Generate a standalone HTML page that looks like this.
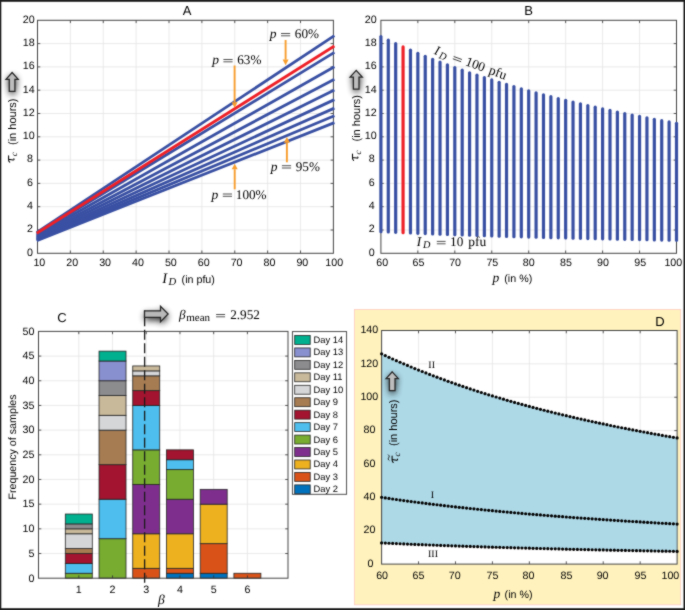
<!DOCTYPE html><html><head><meta charset="utf-8"><style>html,body{margin:0;padding:0;background:#fff;}svg{display:block;}.s{font-family:"Liberation Sans",sans-serif;}.r{font-family:"Liberation Serif",serif;}text{fill:#000;}</style></head><body>
<div><svg width="685" height="610" viewBox="0 0 685 610" text-rendering="geometricPrecision">
<defs><filter id="sh" x="-1" y="-1" width="3" height="3"><feGaussianBlur stdDeviation="3.5"/></filter></defs>
<filter id="gb" x="0" y="0" width="685" height="610" filterUnits="userSpaceOnUse" color-interpolation-filters="sRGB"><feConvolveMatrix order="3" kernelMatrix="1 2 1 2 16 2 1 2 1" divisor="28" edgeMode="duplicate"/></filter>
<g filter="url(#gb)">
<rect width="685" height="610" fill="#fff"/>
<line x1="70.38" y1="20.3" x2="70.38" y2="253.3" stroke="#e4e4e4" stroke-width="0.8"/>
<line x1="103.26" y1="20.3" x2="103.26" y2="253.3" stroke="#e4e4e4" stroke-width="0.8"/>
<line x1="136.13" y1="20.3" x2="136.13" y2="253.3" stroke="#e4e4e4" stroke-width="0.8"/>
<line x1="169.01" y1="20.3" x2="169.01" y2="253.3" stroke="#e4e4e4" stroke-width="0.8"/>
<line x1="201.89" y1="20.3" x2="201.89" y2="253.3" stroke="#e4e4e4" stroke-width="0.8"/>
<line x1="234.77" y1="20.3" x2="234.77" y2="253.3" stroke="#e4e4e4" stroke-width="0.8"/>
<line x1="267.64" y1="20.3" x2="267.64" y2="253.3" stroke="#e4e4e4" stroke-width="0.8"/>
<line x1="300.52" y1="20.3" x2="300.52" y2="253.3" stroke="#e4e4e4" stroke-width="0.8"/>
<line x1="37.5" y1="230" x2="333.4" y2="230" stroke="#e4e4e4" stroke-width="0.8"/>
<line x1="37.5" y1="206.7" x2="333.4" y2="206.7" stroke="#e4e4e4" stroke-width="0.8"/>
<line x1="37.5" y1="183.4" x2="333.4" y2="183.4" stroke="#e4e4e4" stroke-width="0.8"/>
<line x1="37.5" y1="160.1" x2="333.4" y2="160.1" stroke="#e4e4e4" stroke-width="0.8"/>
<line x1="37.5" y1="136.8" x2="333.4" y2="136.8" stroke="#e4e4e4" stroke-width="0.8"/>
<line x1="37.5" y1="113.5" x2="333.4" y2="113.5" stroke="#e4e4e4" stroke-width="0.8"/>
<line x1="37.5" y1="90.2" x2="333.4" y2="90.2" stroke="#e4e4e4" stroke-width="0.8"/>
<line x1="37.5" y1="66.9" x2="333.4" y2="66.9" stroke="#e4e4e4" stroke-width="0.8"/>
<line x1="37.5" y1="43.6" x2="333.4" y2="43.6" stroke="#e4e4e4" stroke-width="0.8"/>
<line x1="70.38" y1="253.3" x2="70.38" y2="250.5" stroke="#303030" stroke-width="0.8"/>
<line x1="70.38" y1="20.3" x2="70.38" y2="23.1" stroke="#303030" stroke-width="0.8"/>
<line x1="103.26" y1="253.3" x2="103.26" y2="250.5" stroke="#303030" stroke-width="0.8"/>
<line x1="103.26" y1="20.3" x2="103.26" y2="23.1" stroke="#303030" stroke-width="0.8"/>
<line x1="136.13" y1="253.3" x2="136.13" y2="250.5" stroke="#303030" stroke-width="0.8"/>
<line x1="136.13" y1="20.3" x2="136.13" y2="23.1" stroke="#303030" stroke-width="0.8"/>
<line x1="169.01" y1="253.3" x2="169.01" y2="250.5" stroke="#303030" stroke-width="0.8"/>
<line x1="169.01" y1="20.3" x2="169.01" y2="23.1" stroke="#303030" stroke-width="0.8"/>
<line x1="201.89" y1="253.3" x2="201.89" y2="250.5" stroke="#303030" stroke-width="0.8"/>
<line x1="201.89" y1="20.3" x2="201.89" y2="23.1" stroke="#303030" stroke-width="0.8"/>
<line x1="234.77" y1="253.3" x2="234.77" y2="250.5" stroke="#303030" stroke-width="0.8"/>
<line x1="234.77" y1="20.3" x2="234.77" y2="23.1" stroke="#303030" stroke-width="0.8"/>
<line x1="267.64" y1="253.3" x2="267.64" y2="250.5" stroke="#303030" stroke-width="0.8"/>
<line x1="267.64" y1="20.3" x2="267.64" y2="23.1" stroke="#303030" stroke-width="0.8"/>
<line x1="300.52" y1="253.3" x2="300.52" y2="250.5" stroke="#303030" stroke-width="0.8"/>
<line x1="300.52" y1="20.3" x2="300.52" y2="23.1" stroke="#303030" stroke-width="0.8"/>
<line x1="37.5" y1="230" x2="40.3" y2="230" stroke="#303030" stroke-width="0.8"/>
<line x1="333.4" y1="230" x2="330.6" y2="230" stroke="#303030" stroke-width="0.8"/>
<line x1="37.5" y1="206.7" x2="40.3" y2="206.7" stroke="#303030" stroke-width="0.8"/>
<line x1="333.4" y1="206.7" x2="330.6" y2="206.7" stroke="#303030" stroke-width="0.8"/>
<line x1="37.5" y1="183.4" x2="40.3" y2="183.4" stroke="#303030" stroke-width="0.8"/>
<line x1="333.4" y1="183.4" x2="330.6" y2="183.4" stroke="#303030" stroke-width="0.8"/>
<line x1="37.5" y1="160.1" x2="40.3" y2="160.1" stroke="#303030" stroke-width="0.8"/>
<line x1="333.4" y1="160.1" x2="330.6" y2="160.1" stroke="#303030" stroke-width="0.8"/>
<line x1="37.5" y1="136.8" x2="40.3" y2="136.8" stroke="#303030" stroke-width="0.8"/>
<line x1="333.4" y1="136.8" x2="330.6" y2="136.8" stroke="#303030" stroke-width="0.8"/>
<line x1="37.5" y1="113.5" x2="40.3" y2="113.5" stroke="#303030" stroke-width="0.8"/>
<line x1="333.4" y1="113.5" x2="330.6" y2="113.5" stroke="#303030" stroke-width="0.8"/>
<line x1="37.5" y1="90.2" x2="40.3" y2="90.2" stroke="#303030" stroke-width="0.8"/>
<line x1="333.4" y1="90.2" x2="330.6" y2="90.2" stroke="#303030" stroke-width="0.8"/>
<line x1="37.5" y1="66.9" x2="40.3" y2="66.9" stroke="#303030" stroke-width="0.8"/>
<line x1="333.4" y1="66.9" x2="330.6" y2="66.9" stroke="#303030" stroke-width="0.8"/>
<line x1="37.5" y1="43.6" x2="40.3" y2="43.6" stroke="#303030" stroke-width="0.8"/>
<line x1="333.4" y1="43.6" x2="330.6" y2="43.6" stroke="#303030" stroke-width="0.8"/>
<rect x="37.5" y="20.3" width="295.9" height="233" fill="none" stroke="#444444" stroke-width="1"/>
<text x="29.9" y="255.68" text-anchor="middle" class="s" font-size="10.7">0</text>
<text x="29.9" y="232.38" text-anchor="middle" class="s" font-size="10.7">2</text>
<text x="29.9" y="209.08" text-anchor="middle" class="s" font-size="10.7">4</text>
<text x="29.9" y="185.78" text-anchor="middle" class="s" font-size="10.7">6</text>
<text x="29.9" y="162.48" text-anchor="middle" class="s" font-size="10.7">8</text>
<text x="28.75" y="139.18" text-anchor="middle" class="s" font-size="10.7">10</text>
<text x="28.75" y="115.88" text-anchor="middle" class="s" font-size="10.7">12</text>
<text x="28.75" y="92.58" text-anchor="middle" class="s" font-size="10.7">14</text>
<text x="28.75" y="69.28" text-anchor="middle" class="s" font-size="10.7">16</text>
<text x="28.75" y="45.98" text-anchor="middle" class="s" font-size="10.7">18</text>
<text x="28.75" y="22.68" text-anchor="middle" class="s" font-size="10.7">20</text>
<text x="39.35" y="266.43" text-anchor="middle" class="s" font-size="10.7">10</text>
<text x="72.23" y="266.43" text-anchor="middle" class="s" font-size="10.7">20</text>
<text x="105.11" y="266.43" text-anchor="middle" class="s" font-size="10.7">30</text>
<text x="137.98" y="266.43" text-anchor="middle" class="s" font-size="10.7">40</text>
<text x="170.86" y="266.43" text-anchor="middle" class="s" font-size="10.7">50</text>
<text x="203.74" y="266.43" text-anchor="middle" class="s" font-size="10.7">60</text>
<text x="236.62" y="266.43" text-anchor="middle" class="s" font-size="10.7">70</text>
<text x="269.49" y="266.43" text-anchor="middle" class="s" font-size="10.7">80</text>
<text x="302.37" y="266.43" text-anchor="middle" class="s" font-size="10.7">90</text>
<text x="334.2" y="266.43" text-anchor="middle" class="s" font-size="10.7">100</text>
<line x1="36.7" y1="240.76" x2="334.4" y2="122.64" stroke="#3950a3" stroke-width="2.8"/>
<line x1="36.7" y1="240.1" x2="334.4" y2="115.78" stroke="#3950a3" stroke-width="2.8"/>
<line x1="36.7" y1="239.36" x2="334.4" y2="108.15" stroke="#3950a3" stroke-width="2.8"/>
<line x1="36.7" y1="238.53" x2="334.4" y2="99.63" stroke="#3950a3" stroke-width="2.8"/>
<line x1="36.7" y1="237.59" x2="334.4" y2="90.04" stroke="#3950a3" stroke-width="2.8"/>
<line x1="36.7" y1="236.54" x2="334.4" y2="79.17" stroke="#3950a3" stroke-width="2.8"/>
<line x1="36.7" y1="235.33" x2="334.4" y2="66.75" stroke="#3950a3" stroke-width="2.8"/>
<line x1="36.7" y1="233.93" x2="334.4" y2="52.42" stroke="#3950a3" stroke-width="2.8"/>
<line x1="36.7" y1="232.31" x2="334.4" y2="35.7" stroke="#3950a3" stroke-width="2.8"/>
<line x1="36.7" y1="233.31" x2="334.4" y2="46.05" stroke="#ee2027" stroke-width="2.8"/>
<text x="187" y="14.6" text-anchor="middle" class="s" font-size="13">A</text>
<line x1="285.6" y1="40" x2="285.6" y2="59.6" stroke="#f89d2c" stroke-width="1.9"/>
<path d="M285.6,65.2 L288.6,59.6 L282.6,59.6 Z" fill="#f89d2c"/>
<line x1="234.6" y1="65.5" x2="234.6" y2="102.2" stroke="#f89d2c" stroke-width="1.9"/>
<path d="M234.6,107.8 L237.6,102.2 L231.6,102.2 Z" fill="#f89d2c"/>
<line x1="286.9" y1="162.3" x2="286.9" y2="142.7" stroke="#f89d2c" stroke-width="1.9"/>
<path d="M286.9,137.1 L289.9,142.7 L283.9,142.7 Z" fill="#f89d2c"/>
<line x1="234.7" y1="189.3" x2="234.7" y2="169.3" stroke="#f89d2c" stroke-width="1.9"/>
<path d="M234.7,163.7 L237.7,169.3 L231.7,169.3 Z" fill="#f89d2c"/>
<text x="269.8" y="38.4" class="r" font-size="13.5" font-style="italic">p</text>
<line x1="281" y1="33.5" x2="290.2" y2="33.5" stroke="#333" stroke-width="0.85"/>
<line x1="281" y1="35.8" x2="290.2" y2="35.8" stroke="#333" stroke-width="0.85"/>
<text x="294.8" y="38.4" class="r" font-size="13.2">60%</text>
<text x="212.2" y="64.4" class="r" font-size="13.5" font-style="italic">p</text>
<line x1="223.4" y1="59.5" x2="232.6" y2="59.5" stroke="#333" stroke-width="0.85"/>
<line x1="223.4" y1="61.8" x2="232.6" y2="61.8" stroke="#333" stroke-width="0.85"/>
<text x="237.2" y="64.4" class="r" font-size="13.2">63%</text>
<text x="270.7" y="170.6" class="r" font-size="13.5" font-style="italic">p</text>
<line x1="281.9" y1="165.7" x2="291.1" y2="165.7" stroke="#333" stroke-width="0.85"/>
<line x1="281.9" y1="168" x2="291.1" y2="168" stroke="#333" stroke-width="0.85"/>
<text x="295.7" y="170.6" class="r" font-size="13.2">95%</text>
<text x="211.6" y="198.9" class="r" font-size="13.5" font-style="italic">p</text>
<line x1="222.8" y1="194" x2="232" y2="194" stroke="#333" stroke-width="0.85"/>
<line x1="222.8" y1="196.3" x2="232" y2="196.3" stroke="#333" stroke-width="0.85"/>
<text x="235.8" y="198.9" class="r" font-size="13.2">100%</text>
<path transform="translate(14.2,162.5) rotate(-90)" d="M0.3,-4.5 C0.9,-5.3 1.7,-5.6 2.7,-5.6 L6.7,-5.6 M3.2,-5.6 L2.6,-1.2 C2.4,-0.3 2.9,0.2 3.7,-0.3" fill="none" stroke="#000" stroke-width="1.05" stroke-linecap="round"/>
<text transform="translate(16.6,156.3) rotate(-90)" class="r" font-size="9" font-style="italic">c</text>
<text transform="translate(16.3,145) rotate(-90)" class="s" font-size="11">(in hours)</text>
<text x="162.2" y="282.7" class="r" font-size="14.5" font-style="italic">I</text>
<text x="168.4" y="284.9" class="r" font-size="10.6" font-style="italic">D</text>
<text x="181.6" y="282.6" class="s" font-size="10.7">(in pfu)</text>
<g transform="translate(12.1,72.5) rotate(0)"><path d="M0,0 L6.1,6.8 L2.8,6.8 L2.8,18.8 L-2.8,18.8 L-2.8,6.8 L-6.1,6.8 Z" fill="#000" opacity="0.95" filter="url(#sh)" transform="translate(0.3,2.6)"/><path d="M0,0 L6.1,6.8 L2.8,6.8 L2.8,18.8 L-2.8,18.8 L-2.8,6.8 L-6.1,6.8 Z" fill="#bdbdbd" stroke="#262626" stroke-width="1.25" stroke-linejoin="miter"/></g>
<line x1="417.85" y1="20.3" x2="417.85" y2="253.3" stroke="#e4e4e4" stroke-width="0.8"/>
<line x1="454.8" y1="20.3" x2="454.8" y2="253.3" stroke="#e4e4e4" stroke-width="0.8"/>
<line x1="491.75" y1="20.3" x2="491.75" y2="253.3" stroke="#e4e4e4" stroke-width="0.8"/>
<line x1="528.7" y1="20.3" x2="528.7" y2="253.3" stroke="#e4e4e4" stroke-width="0.8"/>
<line x1="565.65" y1="20.3" x2="565.65" y2="253.3" stroke="#e4e4e4" stroke-width="0.8"/>
<line x1="602.6" y1="20.3" x2="602.6" y2="253.3" stroke="#e4e4e4" stroke-width="0.8"/>
<line x1="639.55" y1="20.3" x2="639.55" y2="253.3" stroke="#e4e4e4" stroke-width="0.8"/>
<line x1="380.9" y1="230" x2="676.5" y2="230" stroke="#e4e4e4" stroke-width="0.8"/>
<line x1="380.9" y1="206.7" x2="676.5" y2="206.7" stroke="#e4e4e4" stroke-width="0.8"/>
<line x1="380.9" y1="183.4" x2="676.5" y2="183.4" stroke="#e4e4e4" stroke-width="0.8"/>
<line x1="380.9" y1="160.1" x2="676.5" y2="160.1" stroke="#e4e4e4" stroke-width="0.8"/>
<line x1="380.9" y1="136.8" x2="676.5" y2="136.8" stroke="#e4e4e4" stroke-width="0.8"/>
<line x1="380.9" y1="113.5" x2="676.5" y2="113.5" stroke="#e4e4e4" stroke-width="0.8"/>
<line x1="380.9" y1="90.2" x2="676.5" y2="90.2" stroke="#e4e4e4" stroke-width="0.8"/>
<line x1="380.9" y1="66.9" x2="676.5" y2="66.9" stroke="#e4e4e4" stroke-width="0.8"/>
<line x1="380.9" y1="43.6" x2="676.5" y2="43.6" stroke="#e4e4e4" stroke-width="0.8"/>
<line x1="417.85" y1="253.3" x2="417.85" y2="250.5" stroke="#303030" stroke-width="0.8"/>
<line x1="417.85" y1="20.3" x2="417.85" y2="23.1" stroke="#303030" stroke-width="0.8"/>
<line x1="454.8" y1="253.3" x2="454.8" y2="250.5" stroke="#303030" stroke-width="0.8"/>
<line x1="454.8" y1="20.3" x2="454.8" y2="23.1" stroke="#303030" stroke-width="0.8"/>
<line x1="491.75" y1="253.3" x2="491.75" y2="250.5" stroke="#303030" stroke-width="0.8"/>
<line x1="491.75" y1="20.3" x2="491.75" y2="23.1" stroke="#303030" stroke-width="0.8"/>
<line x1="528.7" y1="253.3" x2="528.7" y2="250.5" stroke="#303030" stroke-width="0.8"/>
<line x1="528.7" y1="20.3" x2="528.7" y2="23.1" stroke="#303030" stroke-width="0.8"/>
<line x1="565.65" y1="253.3" x2="565.65" y2="250.5" stroke="#303030" stroke-width="0.8"/>
<line x1="565.65" y1="20.3" x2="565.65" y2="23.1" stroke="#303030" stroke-width="0.8"/>
<line x1="602.6" y1="253.3" x2="602.6" y2="250.5" stroke="#303030" stroke-width="0.8"/>
<line x1="602.6" y1="20.3" x2="602.6" y2="23.1" stroke="#303030" stroke-width="0.8"/>
<line x1="639.55" y1="253.3" x2="639.55" y2="250.5" stroke="#303030" stroke-width="0.8"/>
<line x1="639.55" y1="20.3" x2="639.55" y2="23.1" stroke="#303030" stroke-width="0.8"/>
<line x1="380.9" y1="230" x2="383.7" y2="230" stroke="#303030" stroke-width="0.8"/>
<line x1="676.5" y1="230" x2="673.7" y2="230" stroke="#303030" stroke-width="0.8"/>
<line x1="380.9" y1="206.7" x2="383.7" y2="206.7" stroke="#303030" stroke-width="0.8"/>
<line x1="676.5" y1="206.7" x2="673.7" y2="206.7" stroke="#303030" stroke-width="0.8"/>
<line x1="380.9" y1="183.4" x2="383.7" y2="183.4" stroke="#303030" stroke-width="0.8"/>
<line x1="676.5" y1="183.4" x2="673.7" y2="183.4" stroke="#303030" stroke-width="0.8"/>
<line x1="380.9" y1="160.1" x2="383.7" y2="160.1" stroke="#303030" stroke-width="0.8"/>
<line x1="676.5" y1="160.1" x2="673.7" y2="160.1" stroke="#303030" stroke-width="0.8"/>
<line x1="380.9" y1="136.8" x2="383.7" y2="136.8" stroke="#303030" stroke-width="0.8"/>
<line x1="676.5" y1="136.8" x2="673.7" y2="136.8" stroke="#303030" stroke-width="0.8"/>
<line x1="380.9" y1="113.5" x2="383.7" y2="113.5" stroke="#303030" stroke-width="0.8"/>
<line x1="676.5" y1="113.5" x2="673.7" y2="113.5" stroke="#303030" stroke-width="0.8"/>
<line x1="380.9" y1="90.2" x2="383.7" y2="90.2" stroke="#303030" stroke-width="0.8"/>
<line x1="676.5" y1="90.2" x2="673.7" y2="90.2" stroke="#303030" stroke-width="0.8"/>
<line x1="380.9" y1="66.9" x2="383.7" y2="66.9" stroke="#303030" stroke-width="0.8"/>
<line x1="676.5" y1="66.9" x2="673.7" y2="66.9" stroke="#303030" stroke-width="0.8"/>
<line x1="380.9" y1="43.6" x2="383.7" y2="43.6" stroke="#303030" stroke-width="0.8"/>
<line x1="676.5" y1="43.6" x2="673.7" y2="43.6" stroke="#303030" stroke-width="0.8"/>
<rect x="380.9" y="20.3" width="295.6" height="233" fill="none" stroke="#444444" stroke-width="1"/>
<text x="371.8" y="255.68" text-anchor="middle" class="s" font-size="10.7">0</text>
<text x="371.8" y="232.38" text-anchor="middle" class="s" font-size="10.7">2</text>
<text x="371.8" y="209.08" text-anchor="middle" class="s" font-size="10.7">4</text>
<text x="371.8" y="185.78" text-anchor="middle" class="s" font-size="10.7">6</text>
<text x="371.8" y="162.48" text-anchor="middle" class="s" font-size="10.7">8</text>
<text x="370.65" y="139.18" text-anchor="middle" class="s" font-size="10.7">10</text>
<text x="370.65" y="115.88" text-anchor="middle" class="s" font-size="10.7">12</text>
<text x="370.65" y="92.58" text-anchor="middle" class="s" font-size="10.7">14</text>
<text x="370.65" y="69.28" text-anchor="middle" class="s" font-size="10.7">16</text>
<text x="370.65" y="45.98" text-anchor="middle" class="s" font-size="10.7">18</text>
<text x="370.65" y="22.68" text-anchor="middle" class="s" font-size="10.7">20</text>
<text x="382.2" y="266.43" text-anchor="middle" class="s" font-size="10.7">60</text>
<text x="418.5" y="266.43" text-anchor="middle" class="s" font-size="10.7">65</text>
<text x="455.1" y="266.43" text-anchor="middle" class="s" font-size="10.7">70</text>
<text x="492.35" y="266.43" text-anchor="middle" class="s" font-size="10.7">75</text>
<text x="528.7" y="266.43" text-anchor="middle" class="s" font-size="10.7">80</text>
<text x="566" y="266.43" text-anchor="middle" class="s" font-size="10.7">85</text>
<text x="602.9" y="266.43" text-anchor="middle" class="s" font-size="10.7">90</text>
<text x="640.2" y="266.43" text-anchor="middle" class="s" font-size="10.7">95</text>
<text x="673.3" y="266.43" text-anchor="middle" class="s" font-size="10.7">100</text>
<line x1="380.9" y1="231.63" x2="380.9" y2="36.61" stroke="#3950a3" stroke-width="3.2" stroke-linecap="round"/>
<line x1="388.29" y1="231.99" x2="388.29" y2="40.16" stroke="#3950a3" stroke-width="3.2" stroke-linecap="round"/>
<line x1="395.68" y1="232.33" x2="395.68" y2="43.6" stroke="#3950a3" stroke-width="3.2" stroke-linecap="round"/>
<line x1="403.07" y1="232.66" x2="403.07" y2="46.93" stroke="#ee2027" stroke-width="3.2" stroke-linecap="round"/>
<line x1="410.46" y1="232.99" x2="410.46" y2="50.15" stroke="#3950a3" stroke-width="3.2" stroke-linecap="round"/>
<line x1="417.85" y1="233.3" x2="417.85" y2="53.28" stroke="#3950a3" stroke-width="3.2" stroke-linecap="round"/>
<line x1="425.24" y1="233.6" x2="425.24" y2="56.31" stroke="#3950a3" stroke-width="3.2" stroke-linecap="round"/>
<line x1="432.63" y1="233.89" x2="432.63" y2="59.25" stroke="#3950a3" stroke-width="3.2" stroke-linecap="round"/>
<line x1="440.02" y1="234.18" x2="440.02" y2="62.1" stroke="#3950a3" stroke-width="3.2" stroke-linecap="round"/>
<line x1="447.41" y1="234.46" x2="447.41" y2="64.87" stroke="#3950a3" stroke-width="3.2" stroke-linecap="round"/>
<line x1="454.8" y1="234.73" x2="454.8" y2="67.57" stroke="#3950a3" stroke-width="3.2" stroke-linecap="round"/>
<line x1="462.19" y1="234.99" x2="462.19" y2="70.18" stroke="#3950a3" stroke-width="3.2" stroke-linecap="round"/>
<line x1="469.58" y1="235.24" x2="469.58" y2="72.73" stroke="#3950a3" stroke-width="3.2" stroke-linecap="round"/>
<line x1="476.97" y1="235.49" x2="476.97" y2="75.2" stroke="#3950a3" stroke-width="3.2" stroke-linecap="round"/>
<line x1="484.36" y1="235.73" x2="484.36" y2="77.61" stroke="#3950a3" stroke-width="3.2" stroke-linecap="round"/>
<line x1="491.75" y1="235.96" x2="491.75" y2="79.95" stroke="#3950a3" stroke-width="3.2" stroke-linecap="round"/>
<line x1="499.14" y1="236.19" x2="499.14" y2="82.23" stroke="#3950a3" stroke-width="3.2" stroke-linecap="round"/>
<line x1="506.53" y1="236.42" x2="506.53" y2="84.45" stroke="#3950a3" stroke-width="3.2" stroke-linecap="round"/>
<line x1="513.92" y1="236.63" x2="513.92" y2="86.62" stroke="#3950a3" stroke-width="3.2" stroke-linecap="round"/>
<line x1="521.31" y1="236.84" x2="521.31" y2="88.73" stroke="#3950a3" stroke-width="3.2" stroke-linecap="round"/>
<line x1="528.7" y1="237.05" x2="528.7" y2="90.78" stroke="#3950a3" stroke-width="3.2" stroke-linecap="round"/>
<line x1="536.09" y1="237.25" x2="536.09" y2="92.79" stroke="#3950a3" stroke-width="3.2" stroke-linecap="round"/>
<line x1="543.48" y1="237.44" x2="543.48" y2="94.75" stroke="#3950a3" stroke-width="3.2" stroke-linecap="round"/>
<line x1="550.87" y1="237.64" x2="550.87" y2="96.66" stroke="#3950a3" stroke-width="3.2" stroke-linecap="round"/>
<line x1="558.26" y1="237.82" x2="558.26" y2="98.52" stroke="#3950a3" stroke-width="3.2" stroke-linecap="round"/>
<line x1="565.65" y1="238" x2="565.65" y2="100.34" stroke="#3950a3" stroke-width="3.2" stroke-linecap="round"/>
<line x1="573.04" y1="238.18" x2="573.04" y2="102.12" stroke="#3950a3" stroke-width="3.2" stroke-linecap="round"/>
<line x1="580.43" y1="238.36" x2="580.43" y2="103.86" stroke="#3950a3" stroke-width="3.2" stroke-linecap="round"/>
<line x1="587.82" y1="238.53" x2="587.82" y2="105.56" stroke="#3950a3" stroke-width="3.2" stroke-linecap="round"/>
<line x1="595.21" y1="238.69" x2="595.21" y2="107.22" stroke="#3950a3" stroke-width="3.2" stroke-linecap="round"/>
<line x1="602.6" y1="238.85" x2="602.6" y2="108.84" stroke="#3950a3" stroke-width="3.2" stroke-linecap="round"/>
<line x1="609.99" y1="239.01" x2="609.99" y2="110.43" stroke="#3950a3" stroke-width="3.2" stroke-linecap="round"/>
<line x1="617.38" y1="239.17" x2="617.38" y2="111.98" stroke="#3950a3" stroke-width="3.2" stroke-linecap="round"/>
<line x1="624.77" y1="239.32" x2="624.77" y2="113.5" stroke="#3950a3" stroke-width="3.2" stroke-linecap="round"/>
<line x1="632.16" y1="239.47" x2="632.16" y2="114.99" stroke="#3950a3" stroke-width="3.2" stroke-linecap="round"/>
<line x1="639.55" y1="239.61" x2="639.55" y2="116.44" stroke="#3950a3" stroke-width="3.2" stroke-linecap="round"/>
<line x1="646.94" y1="239.76" x2="646.94" y2="117.87" stroke="#3950a3" stroke-width="3.2" stroke-linecap="round"/>
<line x1="654.33" y1="239.9" x2="654.33" y2="119.26" stroke="#3950a3" stroke-width="3.2" stroke-linecap="round"/>
<line x1="661.72" y1="240.03" x2="661.72" y2="120.63" stroke="#3950a3" stroke-width="3.2" stroke-linecap="round"/>
<line x1="669.11" y1="240.17" x2="669.11" y2="121.97" stroke="#3950a3" stroke-width="3.2" stroke-linecap="round"/>
<line x1="676.5" y1="240.3" x2="676.5" y2="123.29" stroke="#3950a3" stroke-width="3.2" stroke-linecap="round"/>
<text x="528.6" y="14.6" text-anchor="middle" class="s" font-size="13">B</text>
<path transform="translate(358.1,160.7) rotate(-90)" d="M0.3,-4.5 C0.9,-5.3 1.7,-5.6 2.7,-5.6 L6.7,-5.6 M3.2,-5.6 L2.6,-1.2 C2.4,-0.3 2.9,0.2 3.7,-0.3" fill="none" stroke="#000" stroke-width="1.05" stroke-linecap="round"/>
<text transform="translate(360.5,154.5) rotate(-90)" class="r" font-size="9" font-style="italic">c</text>
<text transform="translate(360.2,141.5) rotate(-90)" class="s" font-size="11">(in hours)</text>
<text x="492.6" y="282.4" class="r" font-size="13.5" font-style="italic">p</text>
<text x="504.3" y="282.4" class="s" font-size="10.7">(in %)</text>
<g transform="translate(433.4,53.7) rotate(20)">
<text x="0" y="0" class="r" font-size="13.2" font-style="italic">I</text>
<text x="6.1" y="2.4" class="r" font-size="10.2" font-style="italic">D</text>
<line x1="20" y1="-4.3" x2="28.8" y2="-4.3" stroke="#333" stroke-width="0.85"/>
<line x1="20" y1="-1.9" x2="28.8" y2="-1.9" stroke="#333" stroke-width="0.85"/>
<text x="33.3" y="0" class="r" font-size="13.2">100</text>
<text x="58" y="0" class="r" font-size="13.5">pfu</text>
</g>
<text x="416.8" y="245.7" class="r" font-size="13.2" font-style="italic">I</text>
<text x="422.9" y="248.1" class="r" font-size="10.2" font-style="italic">D</text>
<line x1="436.8" y1="241.4" x2="445.6" y2="241.4" stroke="#333" stroke-width="0.85"/>
<line x1="436.8" y1="243.8" x2="445.6" y2="243.8" stroke="#333" stroke-width="0.85"/>
<text x="450.1" y="245.7" class="r" font-size="13.2">10</text>
<text x="468.2" y="245.7" class="r" font-size="13.5">pfu</text>
<g transform="translate(356.2,70.4) rotate(0)"><path d="M0,0 L6.1,6.8 L2.8,6.8 L2.8,18.8 L-2.8,18.8 L-2.8,6.8 L-6.1,6.8 Z" fill="#000" opacity="0.95" filter="url(#sh)" transform="translate(0.3,2.6)"/><path d="M0,0 L6.1,6.8 L2.8,6.8 L2.8,18.8 L-2.8,18.8 L-2.8,6.8 L-6.1,6.8 Z" fill="#bdbdbd" stroke="#262626" stroke-width="1.25" stroke-linejoin="miter"/></g>
<line x1="78.8" y1="331.4" x2="78.8" y2="578.2" stroke="#e4e4e4" stroke-width="0.8"/>
<line x1="112.52" y1="331.4" x2="112.52" y2="578.2" stroke="#e4e4e4" stroke-width="0.8"/>
<line x1="146.24" y1="331.4" x2="146.24" y2="578.2" stroke="#e4e4e4" stroke-width="0.8"/>
<line x1="179.96" y1="331.4" x2="179.96" y2="578.2" stroke="#e4e4e4" stroke-width="0.8"/>
<line x1="213.68" y1="331.4" x2="213.68" y2="578.2" stroke="#e4e4e4" stroke-width="0.8"/>
<line x1="247.4" y1="331.4" x2="247.4" y2="578.2" stroke="#e4e4e4" stroke-width="0.8"/>
<line x1="38.5" y1="553.52" x2="288" y2="553.52" stroke="#e4e4e4" stroke-width="0.8"/>
<line x1="38.5" y1="528.84" x2="288" y2="528.84" stroke="#e4e4e4" stroke-width="0.8"/>
<line x1="38.5" y1="504.16" x2="288" y2="504.16" stroke="#e4e4e4" stroke-width="0.8"/>
<line x1="38.5" y1="479.48" x2="288" y2="479.48" stroke="#e4e4e4" stroke-width="0.8"/>
<line x1="38.5" y1="454.8" x2="288" y2="454.8" stroke="#e4e4e4" stroke-width="0.8"/>
<line x1="38.5" y1="430.12" x2="288" y2="430.12" stroke="#e4e4e4" stroke-width="0.8"/>
<line x1="38.5" y1="405.44" x2="288" y2="405.44" stroke="#e4e4e4" stroke-width="0.8"/>
<line x1="38.5" y1="380.76" x2="288" y2="380.76" stroke="#e4e4e4" stroke-width="0.8"/>
<line x1="38.5" y1="356.08" x2="288" y2="356.08" stroke="#e4e4e4" stroke-width="0.8"/>
<rect x="65.31" y="573.26" width="26.98" height="4.94" fill="#77ac30" stroke="#262626" stroke-width="0.8"/>
<rect x="65.31" y="563.39" width="26.98" height="9.87" fill="#4dbeee" stroke="#262626" stroke-width="0.8"/>
<rect x="65.31" y="553.52" width="26.98" height="9.87" fill="#a2142f" stroke="#262626" stroke-width="0.8"/>
<rect x="65.31" y="548.58" width="26.98" height="4.94" fill="#a67c52" stroke="#262626" stroke-width="0.8"/>
<rect x="65.31" y="533.78" width="26.98" height="14.81" fill="#d5d6d8" stroke="#262626" stroke-width="0.8"/>
<rect x="65.31" y="528.84" width="26.98" height="4.94" fill="#c9b99b" stroke="#262626" stroke-width="0.8"/>
<rect x="65.31" y="523.9" width="26.98" height="4.94" fill="#8c8c8f" stroke="#262626" stroke-width="0.8"/>
<rect x="65.31" y="514.03" width="26.98" height="9.87" fill="#00b08f" stroke="#262626" stroke-width="0.8"/>
<rect x="99.03" y="538.71" width="26.98" height="39.49" fill="#77ac30" stroke="#262626" stroke-width="0.8"/>
<rect x="99.03" y="499.22" width="26.98" height="39.49" fill="#4dbeee" stroke="#262626" stroke-width="0.8"/>
<rect x="99.03" y="464.67" width="26.98" height="34.55" fill="#a2142f" stroke="#262626" stroke-width="0.8"/>
<rect x="99.03" y="430.12" width="26.98" height="34.55" fill="#a67c52" stroke="#262626" stroke-width="0.8"/>
<rect x="99.03" y="415.31" width="26.98" height="14.81" fill="#d5d6d8" stroke="#262626" stroke-width="0.8"/>
<rect x="99.03" y="395.57" width="26.98" height="19.74" fill="#c9b99b" stroke="#262626" stroke-width="0.8"/>
<rect x="99.03" y="380.76" width="26.98" height="14.81" fill="#8c8c8f" stroke="#262626" stroke-width="0.8"/>
<rect x="99.03" y="361.02" width="26.98" height="19.74" fill="#8990d0" stroke="#262626" stroke-width="0.8"/>
<rect x="99.03" y="351.14" width="26.98" height="9.87" fill="#00b08f" stroke="#262626" stroke-width="0.8"/>
<rect x="132.75" y="568.33" width="26.98" height="9.87" fill="#d95319" stroke="#262626" stroke-width="0.8"/>
<rect x="132.75" y="533.78" width="26.98" height="34.55" fill="#edb120" stroke="#262626" stroke-width="0.8"/>
<rect x="132.75" y="484.42" width="26.98" height="49.36" fill="#7e2f8e" stroke="#262626" stroke-width="0.8"/>
<rect x="132.75" y="449.86" width="26.98" height="34.55" fill="#77ac30" stroke="#262626" stroke-width="0.8"/>
<rect x="132.75" y="405.44" width="26.98" height="44.42" fill="#4dbeee" stroke="#262626" stroke-width="0.8"/>
<rect x="132.75" y="390.63" width="26.98" height="14.81" fill="#a2142f" stroke="#262626" stroke-width="0.8"/>
<rect x="132.75" y="375.82" width="26.98" height="14.81" fill="#a67c52" stroke="#262626" stroke-width="0.8"/>
<rect x="132.75" y="370.89" width="26.98" height="4.94" fill="#d5d6d8" stroke="#262626" stroke-width="0.8"/>
<rect x="132.75" y="365.95" width="26.98" height="4.94" fill="#c9b99b" stroke="#262626" stroke-width="0.8"/>
<rect x="166.47" y="573.26" width="26.98" height="4.94" fill="#0072bd" stroke="#262626" stroke-width="0.8"/>
<rect x="166.47" y="568.33" width="26.98" height="4.94" fill="#d95319" stroke="#262626" stroke-width="0.8"/>
<rect x="166.47" y="533.78" width="26.98" height="34.55" fill="#edb120" stroke="#262626" stroke-width="0.8"/>
<rect x="166.47" y="499.22" width="26.98" height="34.55" fill="#7e2f8e" stroke="#262626" stroke-width="0.8"/>
<rect x="166.47" y="469.61" width="26.98" height="29.62" fill="#77ac30" stroke="#262626" stroke-width="0.8"/>
<rect x="166.47" y="459.74" width="26.98" height="9.87" fill="#4dbeee" stroke="#262626" stroke-width="0.8"/>
<rect x="166.47" y="449.86" width="26.98" height="9.87" fill="#a2142f" stroke="#262626" stroke-width="0.8"/>
<rect x="200.19" y="573.26" width="26.98" height="4.94" fill="#0072bd" stroke="#262626" stroke-width="0.8"/>
<rect x="200.19" y="543.65" width="26.98" height="29.62" fill="#d95319" stroke="#262626" stroke-width="0.8"/>
<rect x="200.19" y="504.16" width="26.98" height="39.49" fill="#edb120" stroke="#262626" stroke-width="0.8"/>
<rect x="200.19" y="489.35" width="26.98" height="14.81" fill="#7e2f8e" stroke="#262626" stroke-width="0.8"/>
<rect x="233.91" y="573.26" width="26.98" height="4.94" fill="#d95319" stroke="#262626" stroke-width="0.8"/>
<line x1="78.8" y1="578.2" x2="78.8" y2="575.4" stroke="#303030" stroke-width="0.8"/>
<line x1="78.8" y1="331.4" x2="78.8" y2="334.2" stroke="#303030" stroke-width="0.8"/>
<line x1="112.52" y1="578.2" x2="112.52" y2="575.4" stroke="#303030" stroke-width="0.8"/>
<line x1="112.52" y1="331.4" x2="112.52" y2="334.2" stroke="#303030" stroke-width="0.8"/>
<line x1="146.24" y1="578.2" x2="146.24" y2="575.4" stroke="#303030" stroke-width="0.8"/>
<line x1="146.24" y1="331.4" x2="146.24" y2="334.2" stroke="#303030" stroke-width="0.8"/>
<line x1="179.96" y1="578.2" x2="179.96" y2="575.4" stroke="#303030" stroke-width="0.8"/>
<line x1="179.96" y1="331.4" x2="179.96" y2="334.2" stroke="#303030" stroke-width="0.8"/>
<line x1="213.68" y1="578.2" x2="213.68" y2="575.4" stroke="#303030" stroke-width="0.8"/>
<line x1="213.68" y1="331.4" x2="213.68" y2="334.2" stroke="#303030" stroke-width="0.8"/>
<line x1="247.4" y1="578.2" x2="247.4" y2="575.4" stroke="#303030" stroke-width="0.8"/>
<line x1="247.4" y1="331.4" x2="247.4" y2="334.2" stroke="#303030" stroke-width="0.8"/>
<line x1="38.5" y1="553.52" x2="41.3" y2="553.52" stroke="#303030" stroke-width="0.8"/>
<line x1="288" y1="553.52" x2="285.2" y2="553.52" stroke="#303030" stroke-width="0.8"/>
<line x1="38.5" y1="528.84" x2="41.3" y2="528.84" stroke="#303030" stroke-width="0.8"/>
<line x1="288" y1="528.84" x2="285.2" y2="528.84" stroke="#303030" stroke-width="0.8"/>
<line x1="38.5" y1="504.16" x2="41.3" y2="504.16" stroke="#303030" stroke-width="0.8"/>
<line x1="288" y1="504.16" x2="285.2" y2="504.16" stroke="#303030" stroke-width="0.8"/>
<line x1="38.5" y1="479.48" x2="41.3" y2="479.48" stroke="#303030" stroke-width="0.8"/>
<line x1="288" y1="479.48" x2="285.2" y2="479.48" stroke="#303030" stroke-width="0.8"/>
<line x1="38.5" y1="454.8" x2="41.3" y2="454.8" stroke="#303030" stroke-width="0.8"/>
<line x1="288" y1="454.8" x2="285.2" y2="454.8" stroke="#303030" stroke-width="0.8"/>
<line x1="38.5" y1="430.12" x2="41.3" y2="430.12" stroke="#303030" stroke-width="0.8"/>
<line x1="288" y1="430.12" x2="285.2" y2="430.12" stroke="#303030" stroke-width="0.8"/>
<line x1="38.5" y1="405.44" x2="41.3" y2="405.44" stroke="#303030" stroke-width="0.8"/>
<line x1="288" y1="405.44" x2="285.2" y2="405.44" stroke="#303030" stroke-width="0.8"/>
<line x1="38.5" y1="380.76" x2="41.3" y2="380.76" stroke="#303030" stroke-width="0.8"/>
<line x1="288" y1="380.76" x2="285.2" y2="380.76" stroke="#303030" stroke-width="0.8"/>
<line x1="38.5" y1="356.08" x2="41.3" y2="356.08" stroke="#303030" stroke-width="0.8"/>
<line x1="288" y1="356.08" x2="285.2" y2="356.08" stroke="#303030" stroke-width="0.8"/>
<rect x="38.5" y="331.4" width="249.5" height="246.8" fill="none" stroke="#444444" stroke-width="1"/>
<text x="34.5" y="581.53" text-anchor="end" class="s" font-size="10.7">0</text>
<text x="34.5" y="556.85" text-anchor="end" class="s" font-size="10.7">5</text>
<text x="34.5" y="532.17" text-anchor="end" class="s" font-size="10.7">10</text>
<text x="34.5" y="507.49" text-anchor="end" class="s" font-size="10.7">15</text>
<text x="34.5" y="482.81" text-anchor="end" class="s" font-size="10.7">20</text>
<text x="34.5" y="458.13" text-anchor="end" class="s" font-size="10.7">25</text>
<text x="34.5" y="433.45" text-anchor="end" class="s" font-size="10.7">30</text>
<text x="34.5" y="408.77" text-anchor="end" class="s" font-size="10.7">35</text>
<text x="34.5" y="384.09" text-anchor="end" class="s" font-size="10.7">40</text>
<text x="34.5" y="359.41" text-anchor="end" class="s" font-size="10.7">45</text>
<text x="34.5" y="334.73" text-anchor="end" class="s" font-size="10.7">50</text>
<text x="78.8" y="592.83" text-anchor="middle" class="s" font-size="10.7">1</text>
<text x="112.52" y="592.83" text-anchor="middle" class="s" font-size="10.7">2</text>
<text x="146.24" y="592.83" text-anchor="middle" class="s" font-size="10.7">3</text>
<text x="179.96" y="592.83" text-anchor="middle" class="s" font-size="10.7">4</text>
<text x="213.68" y="592.83" text-anchor="middle" class="s" font-size="10.7">5</text>
<text x="247.4" y="592.83" text-anchor="middle" class="s" font-size="10.7">6</text>
<text x="62" y="322.3" text-anchor="middle" class="s" font-size="13">C</text>
<text transform="translate(15.7,499.6) rotate(-90)" class="s" font-size="10.7">Frequency of samples</text>
<text x="158" y="603.5" class="r" font-size="13.5" font-style="italic">β</text>
<line x1="144.62" y1="310.5" x2="144.62" y2="582.8" stroke="#1a1a1a" stroke-width="1.3" stroke-dasharray="9.9,3.6" stroke-dashoffset="7.7"/>
<g transform="translate(144.5,313.95)"><path d="M0,-3.0 L16.0,-3.0 L16.0,-7.7 L23.6,0 L16.0,7.7 L16.0,3.4 L0,3.4 Z" fill="#000" opacity="0.95" filter="url(#sh)" transform="translate(0.3,2.6)"/><path d="M0,-3.0 L16.0,-3.0 L16.0,-7.7 L23.6,0 L16.0,7.7 L16.0,3.4 L0,3.4 Z" fill="#b9b9b9" stroke="#262626" stroke-width="1.25"/></g>
<text x="178.9" y="319.2" class="r" font-size="13.2" font-style="italic">β</text>
<text x="186.3" y="321.3" class="r" font-size="11">mean</text>
<line x1="216.1" y1="314.5" x2="225.1" y2="314.5" stroke="#333" stroke-width="0.85"/>
<line x1="216.1" y1="316.8" x2="225.1" y2="316.8" stroke="#333" stroke-width="0.85"/>
<text x="230.2" y="319.2" class="r" font-size="13.2">2.952</text>
<rect x="292.4" y="331.6" width="54.2" height="162.7" fill="#fff" stroke="#3c3c3c" stroke-width="0.9"/>
<rect x="294.7" y="335.5" width="15.5" height="8.9" fill="#00b08f" stroke="#262626" stroke-width="0.8"/>
<text x="313.5" y="342.9" class="s" font-size="9.4">Day 14</text>
<rect x="294.7" y="347.95" width="15.5" height="8.9" fill="#8990d0" stroke="#262626" stroke-width="0.8"/>
<text x="313.5" y="355.35" class="s" font-size="9.4">Day 13</text>
<rect x="294.7" y="360.4" width="15.5" height="8.9" fill="#8c8c8f" stroke="#262626" stroke-width="0.8"/>
<text x="313.5" y="367.8" class="s" font-size="9.4">Day 12</text>
<rect x="294.7" y="372.85" width="15.5" height="8.9" fill="#c9b99b" stroke="#262626" stroke-width="0.8"/>
<text x="313.5" y="380.25" class="s" font-size="9.4">Day 11</text>
<rect x="294.7" y="385.3" width="15.5" height="8.9" fill="#d5d6d8" stroke="#262626" stroke-width="0.8"/>
<text x="313.5" y="392.7" class="s" font-size="9.4">Day 10</text>
<rect x="294.7" y="397.75" width="15.5" height="8.9" fill="#a67c52" stroke="#262626" stroke-width="0.8"/>
<text x="313.5" y="405.15" class="s" font-size="9.4">Day 9</text>
<rect x="294.7" y="410.2" width="15.5" height="8.9" fill="#a2142f" stroke="#262626" stroke-width="0.8"/>
<text x="313.5" y="417.6" class="s" font-size="9.4">Day 8</text>
<rect x="294.7" y="422.65" width="15.5" height="8.9" fill="#4dbeee" stroke="#262626" stroke-width="0.8"/>
<text x="313.5" y="430.05" class="s" font-size="9.4">Day 7</text>
<rect x="294.7" y="435.1" width="15.5" height="8.9" fill="#77ac30" stroke="#262626" stroke-width="0.8"/>
<text x="313.5" y="442.5" class="s" font-size="9.4">Day 6</text>
<rect x="294.7" y="447.55" width="15.5" height="8.9" fill="#7e2f8e" stroke="#262626" stroke-width="0.8"/>
<text x="313.5" y="454.95" class="s" font-size="9.4">Day 5</text>
<rect x="294.7" y="460" width="15.5" height="8.9" fill="#edb120" stroke="#262626" stroke-width="0.8"/>
<text x="313.5" y="467.4" class="s" font-size="9.4">Day 4</text>
<rect x="294.7" y="472.45" width="15.5" height="8.9" fill="#d95319" stroke="#262626" stroke-width="0.8"/>
<text x="313.5" y="479.85" class="s" font-size="9.4">Day 3</text>
<rect x="294.7" y="484.9" width="15.5" height="8.9" fill="#0072bd" stroke="#262626" stroke-width="0.8"/>
<text x="313.5" y="492.3" class="s" font-size="9.4">Day 2</text>
<rect x="354.4" y="309.5" width="326.3" height="295.3" fill="#fff2bd" stroke="#ffcfc4" stroke-width="0.9"/>
<rect x="381.6" y="330.5" width="295.5" height="233.6" fill="#fff"/>
<line x1="418.54" y1="330.5" x2="418.54" y2="564.1" stroke="#e4e4e4" stroke-width="0.8"/>
<line x1="455.48" y1="330.5" x2="455.48" y2="564.1" stroke="#e4e4e4" stroke-width="0.8"/>
<line x1="492.41" y1="330.5" x2="492.41" y2="564.1" stroke="#e4e4e4" stroke-width="0.8"/>
<line x1="529.35" y1="330.5" x2="529.35" y2="564.1" stroke="#e4e4e4" stroke-width="0.8"/>
<line x1="566.29" y1="330.5" x2="566.29" y2="564.1" stroke="#e4e4e4" stroke-width="0.8"/>
<line x1="603.23" y1="330.5" x2="603.23" y2="564.1" stroke="#e4e4e4" stroke-width="0.8"/>
<line x1="640.16" y1="330.5" x2="640.16" y2="564.1" stroke="#e4e4e4" stroke-width="0.8"/>
<line x1="381.6" y1="530.73" x2="677.1" y2="530.73" stroke="#e4e4e4" stroke-width="0.8"/>
<line x1="381.6" y1="497.36" x2="677.1" y2="497.36" stroke="#e4e4e4" stroke-width="0.8"/>
<line x1="381.6" y1="463.99" x2="677.1" y2="463.99" stroke="#e4e4e4" stroke-width="0.8"/>
<line x1="381.6" y1="430.61" x2="677.1" y2="430.61" stroke="#e4e4e4" stroke-width="0.8"/>
<line x1="381.6" y1="397.24" x2="677.1" y2="397.24" stroke="#e4e4e4" stroke-width="0.8"/>
<line x1="381.6" y1="363.87" x2="677.1" y2="363.87" stroke="#e4e4e4" stroke-width="0.8"/>
<polygon points="381.6,353.86 385.29,355.6 388.99,357.31 392.68,358.99 396.38,360.64 400.07,362.27 403.76,363.87 407.46,365.45 411.15,367 414.84,368.53 418.54,370.03 422.23,371.51 425.93,372.97 429.62,374.41 433.31,375.83 437.01,377.22 440.7,378.59 444.39,379.95 448.09,381.28 451.78,382.6 455.48,383.89 459.17,385.17 462.86,386.43 466.56,387.67 470.25,388.9 473.94,390.11 477.64,391.3 481.33,392.48 485.03,393.64 488.72,394.78 492.41,395.91 496.11,397.02 499.8,398.12 503.49,399.21 507.19,400.28 510.88,401.33 514.58,402.38 518.27,403.41 521.96,404.42 525.66,405.43 529.35,406.42 533.04,407.4 536.74,408.37 540.43,409.32 544.12,410.27 547.82,411.2 551.51,412.12 555.21,413.03 558.9,413.93 562.59,414.82 566.29,415.7 569.98,416.56 573.67,417.42 577.37,418.27 581.06,419.11 584.76,419.94 588.45,420.75 592.14,421.56 595.84,422.37 599.53,423.16 603.23,423.94 606.92,424.71 610.61,425.48 614.31,426.24 618,426.99 621.69,427.73 625.39,428.46 629.08,429.19 632.78,429.9 636.47,430.61 640.16,431.32 643.86,432.01 647.55,432.7 651.24,433.38 654.94,434.05 658.63,434.72 662.33,435.38 666.02,436.04 669.71,436.68 673.41,437.32 677.1,437.96 677.1,551.39 673.41,551.32 669.71,551.26 666.02,551.19 662.33,551.13 658.63,551.06 654.94,550.99 651.24,550.92 647.55,550.86 643.86,550.79 640.16,550.72 636.47,550.65 632.78,550.57 629.08,550.5 625.39,550.43 621.69,550.35 618,550.28 614.31,550.2 610.61,550.13 606.92,550.05 603.23,549.97 599.53,549.89 595.84,549.81 592.14,549.73 588.45,549.65 584.76,549.57 581.06,549.49 577.37,549.4 573.67,549.32 569.98,549.23 566.29,549.14 562.59,549.05 558.9,548.96 555.21,548.87 551.51,548.78 547.82,548.69 544.12,548.59 540.43,548.5 536.74,548.4 533.04,548.31 529.35,548.21 525.66,548.11 521.96,548.01 518.27,547.9 514.58,547.8 510.88,547.69 507.19,547.59 503.49,547.48 499.8,547.37 496.11,547.26 492.41,547.15 488.72,547.03 485.03,546.92 481.33,546.8 477.64,546.68 473.94,546.56 470.25,546.44 466.56,546.32 462.86,546.19 459.17,546.07 455.48,545.94 451.78,545.81 448.09,545.67 444.39,545.54 440.7,545.4 437.01,545.26 433.31,545.12 429.62,544.98 425.93,544.84 422.23,544.69 418.54,544.54 414.84,544.39 411.15,544.23 407.46,544.08 403.76,543.92 400.07,543.76 396.38,543.59 392.68,543.43 388.99,543.26 385.29,543.08 381.6,542.91" fill="#add8e6"/>
<polygon points="381.6,542.91 385.29,543.08 388.99,543.26 392.68,543.43 396.38,543.59 400.07,543.76 403.76,543.92 407.46,544.08 411.15,544.23 414.84,544.39 418.54,544.54 422.23,544.69 425.93,544.84 429.62,544.98 433.31,545.12 437.01,545.26 440.7,545.4 444.39,545.54 448.09,545.67 451.78,545.81 455.48,545.94 459.17,546.07 462.86,546.19 466.56,546.32 470.25,546.44 473.94,546.56 477.64,546.68 481.33,546.8 485.03,546.92 488.72,547.03 492.41,547.15 496.11,547.26 499.8,547.37 503.49,547.48 507.19,547.59 510.88,547.69 514.58,547.8 518.27,547.9 521.96,548.01 525.66,548.11 529.35,548.21 533.04,548.31 536.74,548.4 540.43,548.5 544.12,548.59 547.82,548.69 551.51,548.78 555.21,548.87 558.9,548.96 562.59,549.05 566.29,549.14 569.98,549.23 573.67,549.32 577.37,549.4 581.06,549.49 584.76,549.57 588.45,549.65 592.14,549.73 595.84,549.81 599.53,549.89 603.23,549.97 606.92,550.05 610.61,550.13 614.31,550.2 618,550.28 621.69,550.35 625.39,550.43 629.08,550.5 632.78,550.57 636.47,550.65 640.16,550.72 643.86,550.79 647.55,550.86 651.24,550.92 654.94,550.99 658.63,551.06 662.33,551.13 666.02,551.19 669.71,551.26 673.41,551.32 677.1,551.39 677.1,564.1 381.6,564.1" fill="#fff"/>
<line x1="418.54" y1="564.1" x2="418.54" y2="561.3" stroke="#303030" stroke-width="0.8"/>
<line x1="418.54" y1="330.5" x2="418.54" y2="333.3" stroke="#303030" stroke-width="0.8"/>
<line x1="455.48" y1="564.1" x2="455.48" y2="561.3" stroke="#303030" stroke-width="0.8"/>
<line x1="455.48" y1="330.5" x2="455.48" y2="333.3" stroke="#303030" stroke-width="0.8"/>
<line x1="492.41" y1="564.1" x2="492.41" y2="561.3" stroke="#303030" stroke-width="0.8"/>
<line x1="492.41" y1="330.5" x2="492.41" y2="333.3" stroke="#303030" stroke-width="0.8"/>
<line x1="529.35" y1="564.1" x2="529.35" y2="561.3" stroke="#303030" stroke-width="0.8"/>
<line x1="529.35" y1="330.5" x2="529.35" y2="333.3" stroke="#303030" stroke-width="0.8"/>
<line x1="566.29" y1="564.1" x2="566.29" y2="561.3" stroke="#303030" stroke-width="0.8"/>
<line x1="566.29" y1="330.5" x2="566.29" y2="333.3" stroke="#303030" stroke-width="0.8"/>
<line x1="603.23" y1="564.1" x2="603.23" y2="561.3" stroke="#303030" stroke-width="0.8"/>
<line x1="603.23" y1="330.5" x2="603.23" y2="333.3" stroke="#303030" stroke-width="0.8"/>
<line x1="640.16" y1="564.1" x2="640.16" y2="561.3" stroke="#303030" stroke-width="0.8"/>
<line x1="640.16" y1="330.5" x2="640.16" y2="333.3" stroke="#303030" stroke-width="0.8"/>
<line x1="677.1" y1="430.61" x2="674.3" y2="430.61" stroke="#303030" stroke-width="0.8"/>
<line x1="677.1" y1="397.24" x2="674.3" y2="397.24" stroke="#303030" stroke-width="0.8"/>
<line x1="677.1" y1="363.87" x2="674.3" y2="363.87" stroke="#303030" stroke-width="0.8"/>
<rect x="381.6" y="330.5" width="295.5" height="233.6" fill="none" stroke="#444444" stroke-width="1"/>
<line x1="676.85" y1="437.96" x2="676.85" y2="551.39" stroke="#add8e6" stroke-width="0.5"/>
<circle cx="381.6" cy="353.86" r="1.6" fill="#000"/>
<circle cx="385.29" cy="355.6" r="1.6" fill="#000"/>
<circle cx="388.99" cy="357.31" r="1.6" fill="#000"/>
<circle cx="392.68" cy="358.99" r="1.6" fill="#000"/>
<circle cx="396.38" cy="360.64" r="1.6" fill="#000"/>
<circle cx="400.07" cy="362.27" r="1.6" fill="#000"/>
<circle cx="403.76" cy="363.87" r="1.6" fill="#000"/>
<circle cx="407.46" cy="365.45" r="1.6" fill="#000"/>
<circle cx="411.15" cy="367" r="1.6" fill="#000"/>
<circle cx="414.84" cy="368.53" r="1.6" fill="#000"/>
<circle cx="418.54" cy="370.03" r="1.6" fill="#000"/>
<circle cx="422.23" cy="371.51" r="1.6" fill="#000"/>
<circle cx="425.93" cy="372.97" r="1.6" fill="#000"/>
<circle cx="429.62" cy="374.41" r="1.6" fill="#000"/>
<circle cx="433.31" cy="375.83" r="1.6" fill="#000"/>
<circle cx="437.01" cy="377.22" r="1.6" fill="#000"/>
<circle cx="440.7" cy="378.59" r="1.6" fill="#000"/>
<circle cx="444.39" cy="379.95" r="1.6" fill="#000"/>
<circle cx="448.09" cy="381.28" r="1.6" fill="#000"/>
<circle cx="451.78" cy="382.6" r="1.6" fill="#000"/>
<circle cx="455.48" cy="383.89" r="1.6" fill="#000"/>
<circle cx="459.17" cy="385.17" r="1.6" fill="#000"/>
<circle cx="462.86" cy="386.43" r="1.6" fill="#000"/>
<circle cx="466.56" cy="387.67" r="1.6" fill="#000"/>
<circle cx="470.25" cy="388.9" r="1.6" fill="#000"/>
<circle cx="473.94" cy="390.11" r="1.6" fill="#000"/>
<circle cx="477.64" cy="391.3" r="1.6" fill="#000"/>
<circle cx="481.33" cy="392.48" r="1.6" fill="#000"/>
<circle cx="485.03" cy="393.64" r="1.6" fill="#000"/>
<circle cx="488.72" cy="394.78" r="1.6" fill="#000"/>
<circle cx="492.41" cy="395.91" r="1.6" fill="#000"/>
<circle cx="496.11" cy="397.02" r="1.6" fill="#000"/>
<circle cx="499.8" cy="398.12" r="1.6" fill="#000"/>
<circle cx="503.49" cy="399.21" r="1.6" fill="#000"/>
<circle cx="507.19" cy="400.28" r="1.6" fill="#000"/>
<circle cx="510.88" cy="401.33" r="1.6" fill="#000"/>
<circle cx="514.58" cy="402.38" r="1.6" fill="#000"/>
<circle cx="518.27" cy="403.41" r="1.6" fill="#000"/>
<circle cx="521.96" cy="404.42" r="1.6" fill="#000"/>
<circle cx="525.66" cy="405.43" r="1.6" fill="#000"/>
<circle cx="529.35" cy="406.42" r="1.6" fill="#000"/>
<circle cx="533.04" cy="407.4" r="1.6" fill="#000"/>
<circle cx="536.74" cy="408.37" r="1.6" fill="#000"/>
<circle cx="540.43" cy="409.32" r="1.6" fill="#000"/>
<circle cx="544.12" cy="410.27" r="1.6" fill="#000"/>
<circle cx="547.82" cy="411.2" r="1.6" fill="#000"/>
<circle cx="551.51" cy="412.12" r="1.6" fill="#000"/>
<circle cx="555.21" cy="413.03" r="1.6" fill="#000"/>
<circle cx="558.9" cy="413.93" r="1.6" fill="#000"/>
<circle cx="562.59" cy="414.82" r="1.6" fill="#000"/>
<circle cx="566.29" cy="415.7" r="1.6" fill="#000"/>
<circle cx="569.98" cy="416.56" r="1.6" fill="#000"/>
<circle cx="573.67" cy="417.42" r="1.6" fill="#000"/>
<circle cx="577.37" cy="418.27" r="1.6" fill="#000"/>
<circle cx="581.06" cy="419.11" r="1.6" fill="#000"/>
<circle cx="584.76" cy="419.94" r="1.6" fill="#000"/>
<circle cx="588.45" cy="420.75" r="1.6" fill="#000"/>
<circle cx="592.14" cy="421.56" r="1.6" fill="#000"/>
<circle cx="595.84" cy="422.37" r="1.6" fill="#000"/>
<circle cx="599.53" cy="423.16" r="1.6" fill="#000"/>
<circle cx="603.23" cy="423.94" r="1.6" fill="#000"/>
<circle cx="606.92" cy="424.71" r="1.6" fill="#000"/>
<circle cx="610.61" cy="425.48" r="1.6" fill="#000"/>
<circle cx="614.31" cy="426.24" r="1.6" fill="#000"/>
<circle cx="618" cy="426.99" r="1.6" fill="#000"/>
<circle cx="621.69" cy="427.73" r="1.6" fill="#000"/>
<circle cx="625.39" cy="428.46" r="1.6" fill="#000"/>
<circle cx="629.08" cy="429.19" r="1.6" fill="#000"/>
<circle cx="632.78" cy="429.9" r="1.6" fill="#000"/>
<circle cx="636.47" cy="430.61" r="1.6" fill="#000"/>
<circle cx="640.16" cy="431.32" r="1.6" fill="#000"/>
<circle cx="643.86" cy="432.01" r="1.6" fill="#000"/>
<circle cx="647.55" cy="432.7" r="1.6" fill="#000"/>
<circle cx="651.24" cy="433.38" r="1.6" fill="#000"/>
<circle cx="654.94" cy="434.05" r="1.6" fill="#000"/>
<circle cx="658.63" cy="434.72" r="1.6" fill="#000"/>
<circle cx="662.33" cy="435.38" r="1.6" fill="#000"/>
<circle cx="666.02" cy="436.04" r="1.6" fill="#000"/>
<circle cx="669.71" cy="436.68" r="1.6" fill="#000"/>
<circle cx="673.41" cy="437.32" r="1.6" fill="#000"/>
<circle cx="677.1" cy="437.96" r="1.6" fill="#000"/>
<circle cx="381.6" cy="497.36" r="1.6" fill="#000"/>
<circle cx="385.29" cy="497.91" r="1.6" fill="#000"/>
<circle cx="388.99" cy="498.45" r="1.6" fill="#000"/>
<circle cx="392.68" cy="498.99" r="1.6" fill="#000"/>
<circle cx="396.38" cy="499.51" r="1.6" fill="#000"/>
<circle cx="400.07" cy="500.03" r="1.6" fill="#000"/>
<circle cx="403.76" cy="500.54" r="1.6" fill="#000"/>
<circle cx="407.46" cy="501.04" r="1.6" fill="#000"/>
<circle cx="411.15" cy="501.53" r="1.6" fill="#000"/>
<circle cx="414.84" cy="502.01" r="1.6" fill="#000"/>
<circle cx="418.54" cy="502.49" r="1.6" fill="#000"/>
<circle cx="422.23" cy="502.96" r="1.6" fill="#000"/>
<circle cx="425.93" cy="503.42" r="1.6" fill="#000"/>
<circle cx="429.62" cy="503.88" r="1.6" fill="#000"/>
<circle cx="433.31" cy="504.33" r="1.6" fill="#000"/>
<circle cx="437.01" cy="504.77" r="1.6" fill="#000"/>
<circle cx="440.7" cy="505.21" r="1.6" fill="#000"/>
<circle cx="444.39" cy="505.64" r="1.6" fill="#000"/>
<circle cx="448.09" cy="506.06" r="1.6" fill="#000"/>
<circle cx="451.78" cy="506.48" r="1.6" fill="#000"/>
<circle cx="455.48" cy="506.89" r="1.6" fill="#000"/>
<circle cx="459.17" cy="507.3" r="1.6" fill="#000"/>
<circle cx="462.86" cy="507.7" r="1.6" fill="#000"/>
<circle cx="466.56" cy="508.09" r="1.6" fill="#000"/>
<circle cx="470.25" cy="508.48" r="1.6" fill="#000"/>
<circle cx="473.94" cy="508.86" r="1.6" fill="#000"/>
<circle cx="477.64" cy="509.24" r="1.6" fill="#000"/>
<circle cx="481.33" cy="509.62" r="1.6" fill="#000"/>
<circle cx="485.03" cy="509.98" r="1.6" fill="#000"/>
<circle cx="488.72" cy="510.35" r="1.6" fill="#000"/>
<circle cx="492.41" cy="510.71" r="1.6" fill="#000"/>
<circle cx="496.11" cy="511.06" r="1.6" fill="#000"/>
<circle cx="499.8" cy="511.41" r="1.6" fill="#000"/>
<circle cx="503.49" cy="511.75" r="1.6" fill="#000"/>
<circle cx="507.19" cy="512.09" r="1.6" fill="#000"/>
<circle cx="510.88" cy="512.43" r="1.6" fill="#000"/>
<circle cx="514.58" cy="512.76" r="1.6" fill="#000"/>
<circle cx="518.27" cy="513.09" r="1.6" fill="#000"/>
<circle cx="521.96" cy="513.41" r="1.6" fill="#000"/>
<circle cx="525.66" cy="513.73" r="1.6" fill="#000"/>
<circle cx="529.35" cy="514.04" r="1.6" fill="#000"/>
<circle cx="533.04" cy="514.35" r="1.6" fill="#000"/>
<circle cx="536.74" cy="514.66" r="1.6" fill="#000"/>
<circle cx="540.43" cy="514.96" r="1.6" fill="#000"/>
<circle cx="544.12" cy="515.26" r="1.6" fill="#000"/>
<circle cx="547.82" cy="515.56" r="1.6" fill="#000"/>
<circle cx="551.51" cy="515.85" r="1.6" fill="#000"/>
<circle cx="555.21" cy="516.14" r="1.6" fill="#000"/>
<circle cx="558.9" cy="516.43" r="1.6" fill="#000"/>
<circle cx="562.59" cy="516.71" r="1.6" fill="#000"/>
<circle cx="566.29" cy="516.99" r="1.6" fill="#000"/>
<circle cx="569.98" cy="517.26" r="1.6" fill="#000"/>
<circle cx="573.67" cy="517.54" r="1.6" fill="#000"/>
<circle cx="577.37" cy="517.8" r="1.6" fill="#000"/>
<circle cx="581.06" cy="518.07" r="1.6" fill="#000"/>
<circle cx="584.76" cy="518.33" r="1.6" fill="#000"/>
<circle cx="588.45" cy="518.59" r="1.6" fill="#000"/>
<circle cx="592.14" cy="518.85" r="1.6" fill="#000"/>
<circle cx="595.84" cy="519.1" r="1.6" fill="#000"/>
<circle cx="599.53" cy="519.36" r="1.6" fill="#000"/>
<circle cx="603.23" cy="519.6" r="1.6" fill="#000"/>
<circle cx="606.92" cy="519.85" r="1.6" fill="#000"/>
<circle cx="610.61" cy="520.09" r="1.6" fill="#000"/>
<circle cx="614.31" cy="520.33" r="1.6" fill="#000"/>
<circle cx="618" cy="520.57" r="1.6" fill="#000"/>
<circle cx="621.69" cy="520.81" r="1.6" fill="#000"/>
<circle cx="625.39" cy="521.04" r="1.6" fill="#000"/>
<circle cx="629.08" cy="521.27" r="1.6" fill="#000"/>
<circle cx="632.78" cy="521.5" r="1.6" fill="#000"/>
<circle cx="636.47" cy="521.72" r="1.6" fill="#000"/>
<circle cx="640.16" cy="521.95" r="1.6" fill="#000"/>
<circle cx="643.86" cy="522.17" r="1.6" fill="#000"/>
<circle cx="647.55" cy="522.39" r="1.6" fill="#000"/>
<circle cx="651.24" cy="522.6" r="1.6" fill="#000"/>
<circle cx="654.94" cy="522.82" r="1.6" fill="#000"/>
<circle cx="658.63" cy="523.03" r="1.6" fill="#000"/>
<circle cx="662.33" cy="523.24" r="1.6" fill="#000"/>
<circle cx="666.02" cy="523.44" r="1.6" fill="#000"/>
<circle cx="669.71" cy="523.65" r="1.6" fill="#000"/>
<circle cx="673.41" cy="523.85" r="1.6" fill="#000"/>
<circle cx="677.1" cy="524.05" r="1.6" fill="#000"/>
<circle cx="381.6" cy="542.91" r="1.6" fill="#000"/>
<circle cx="385.29" cy="543.08" r="1.6" fill="#000"/>
<circle cx="388.99" cy="543.26" r="1.6" fill="#000"/>
<circle cx="392.68" cy="543.43" r="1.6" fill="#000"/>
<circle cx="396.38" cy="543.59" r="1.6" fill="#000"/>
<circle cx="400.07" cy="543.76" r="1.6" fill="#000"/>
<circle cx="403.76" cy="543.92" r="1.6" fill="#000"/>
<circle cx="407.46" cy="544.08" r="1.6" fill="#000"/>
<circle cx="411.15" cy="544.23" r="1.6" fill="#000"/>
<circle cx="414.84" cy="544.39" r="1.6" fill="#000"/>
<circle cx="418.54" cy="544.54" r="1.6" fill="#000"/>
<circle cx="422.23" cy="544.69" r="1.6" fill="#000"/>
<circle cx="425.93" cy="544.84" r="1.6" fill="#000"/>
<circle cx="429.62" cy="544.98" r="1.6" fill="#000"/>
<circle cx="433.31" cy="545.12" r="1.6" fill="#000"/>
<circle cx="437.01" cy="545.26" r="1.6" fill="#000"/>
<circle cx="440.7" cy="545.4" r="1.6" fill="#000"/>
<circle cx="444.39" cy="545.54" r="1.6" fill="#000"/>
<circle cx="448.09" cy="545.67" r="1.6" fill="#000"/>
<circle cx="451.78" cy="545.81" r="1.6" fill="#000"/>
<circle cx="455.48" cy="545.94" r="1.6" fill="#000"/>
<circle cx="459.17" cy="546.07" r="1.6" fill="#000"/>
<circle cx="462.86" cy="546.19" r="1.6" fill="#000"/>
<circle cx="466.56" cy="546.32" r="1.6" fill="#000"/>
<circle cx="470.25" cy="546.44" r="1.6" fill="#000"/>
<circle cx="473.94" cy="546.56" r="1.6" fill="#000"/>
<circle cx="477.64" cy="546.68" r="1.6" fill="#000"/>
<circle cx="481.33" cy="546.8" r="1.6" fill="#000"/>
<circle cx="485.03" cy="546.92" r="1.6" fill="#000"/>
<circle cx="488.72" cy="547.03" r="1.6" fill="#000"/>
<circle cx="492.41" cy="547.15" r="1.6" fill="#000"/>
<circle cx="496.11" cy="547.26" r="1.6" fill="#000"/>
<circle cx="499.8" cy="547.37" r="1.6" fill="#000"/>
<circle cx="503.49" cy="547.48" r="1.6" fill="#000"/>
<circle cx="507.19" cy="547.59" r="1.6" fill="#000"/>
<circle cx="510.88" cy="547.69" r="1.6" fill="#000"/>
<circle cx="514.58" cy="547.8" r="1.6" fill="#000"/>
<circle cx="518.27" cy="547.9" r="1.6" fill="#000"/>
<circle cx="521.96" cy="548.01" r="1.6" fill="#000"/>
<circle cx="525.66" cy="548.11" r="1.6" fill="#000"/>
<circle cx="529.35" cy="548.21" r="1.6" fill="#000"/>
<circle cx="533.04" cy="548.31" r="1.6" fill="#000"/>
<circle cx="536.74" cy="548.4" r="1.6" fill="#000"/>
<circle cx="540.43" cy="548.5" r="1.6" fill="#000"/>
<circle cx="544.12" cy="548.59" r="1.6" fill="#000"/>
<circle cx="547.82" cy="548.69" r="1.6" fill="#000"/>
<circle cx="551.51" cy="548.78" r="1.6" fill="#000"/>
<circle cx="555.21" cy="548.87" r="1.6" fill="#000"/>
<circle cx="558.9" cy="548.96" r="1.6" fill="#000"/>
<circle cx="562.59" cy="549.05" r="1.6" fill="#000"/>
<circle cx="566.29" cy="549.14" r="1.6" fill="#000"/>
<circle cx="569.98" cy="549.23" r="1.6" fill="#000"/>
<circle cx="573.67" cy="549.32" r="1.6" fill="#000"/>
<circle cx="577.37" cy="549.4" r="1.6" fill="#000"/>
<circle cx="581.06" cy="549.49" r="1.6" fill="#000"/>
<circle cx="584.76" cy="549.57" r="1.6" fill="#000"/>
<circle cx="588.45" cy="549.65" r="1.6" fill="#000"/>
<circle cx="592.14" cy="549.73" r="1.6" fill="#000"/>
<circle cx="595.84" cy="549.81" r="1.6" fill="#000"/>
<circle cx="599.53" cy="549.89" r="1.6" fill="#000"/>
<circle cx="603.23" cy="549.97" r="1.6" fill="#000"/>
<circle cx="606.92" cy="550.05" r="1.6" fill="#000"/>
<circle cx="610.61" cy="550.13" r="1.6" fill="#000"/>
<circle cx="614.31" cy="550.2" r="1.6" fill="#000"/>
<circle cx="618" cy="550.28" r="1.6" fill="#000"/>
<circle cx="621.69" cy="550.35" r="1.6" fill="#000"/>
<circle cx="625.39" cy="550.43" r="1.6" fill="#000"/>
<circle cx="629.08" cy="550.5" r="1.6" fill="#000"/>
<circle cx="632.78" cy="550.57" r="1.6" fill="#000"/>
<circle cx="636.47" cy="550.65" r="1.6" fill="#000"/>
<circle cx="640.16" cy="550.72" r="1.6" fill="#000"/>
<circle cx="643.86" cy="550.79" r="1.6" fill="#000"/>
<circle cx="647.55" cy="550.86" r="1.6" fill="#000"/>
<circle cx="651.24" cy="550.92" r="1.6" fill="#000"/>
<circle cx="654.94" cy="550.99" r="1.6" fill="#000"/>
<circle cx="658.63" cy="551.06" r="1.6" fill="#000"/>
<circle cx="662.33" cy="551.13" r="1.6" fill="#000"/>
<circle cx="666.02" cy="551.19" r="1.6" fill="#000"/>
<circle cx="669.71" cy="551.26" r="1.6" fill="#000"/>
<circle cx="673.41" cy="551.32" r="1.6" fill="#000"/>
<circle cx="677.1" cy="551.39" r="1.6" fill="#000"/>
<text x="370.6" y="566.73" text-anchor="middle" class="s" font-size="10.7">0</text>
<text x="369.5" y="533.36" text-anchor="middle" class="s" font-size="10.7">20</text>
<text x="369.5" y="499.99" text-anchor="middle" class="s" font-size="10.7">40</text>
<text x="369.5" y="466.62" text-anchor="middle" class="s" font-size="10.7">60</text>
<text x="369.5" y="433.24" text-anchor="middle" class="s" font-size="10.7">80</text>
<text x="369.35" y="399.87" text-anchor="middle" class="s" font-size="10.7">100</text>
<text x="369.35" y="366.5" text-anchor="middle" class="s" font-size="10.7">120</text>
<text x="369.35" y="333.13" text-anchor="middle" class="s" font-size="10.7">140</text>
<text x="382.1" y="579.23" text-anchor="middle" class="s" font-size="10.7">60</text>
<text x="418.55" y="579.23" text-anchor="middle" class="s" font-size="10.7">65</text>
<text x="454.8" y="579.23" text-anchor="middle" class="s" font-size="10.7">70</text>
<text x="492.5" y="579.23" text-anchor="middle" class="s" font-size="10.7">75</text>
<text x="528.5" y="579.23" text-anchor="middle" class="s" font-size="10.7">80</text>
<text x="566.4" y="579.23" text-anchor="middle" class="s" font-size="10.7">85</text>
<text x="602.6" y="579.23" text-anchor="middle" class="s" font-size="10.7">90</text>
<text x="640.5" y="579.23" text-anchor="middle" class="s" font-size="10.7">95</text>
<text x="670.4" y="579.23" text-anchor="middle" class="s" font-size="10.7">100</text>
<text x="660" y="326.4" text-anchor="middle" class="s" font-size="13">D</text>
<rect x="427.6" y="361" width="7.6" height="7.4" fill="#fff"/>
<text x="428.3" y="367.8" class="r" font-size="10">II</text>
<text x="430.8" y="497.8" class="r" font-size="10">I</text>
<text x="428" y="556.6" class="r" font-size="10">III</text>
<text x="493.4" y="598" class="r" font-size="13.5" font-style="italic">p</text>
<text x="504.6" y="598" class="s" font-size="10.7">(in %)</text>
<path transform="translate(397.7,462.8) rotate(-90)" d="M0.3,-4.5 C0.9,-5.3 1.7,-5.6 2.7,-5.6 L6.7,-5.6 M3.2,-5.6 L2.6,-1.2 C2.4,-0.3 2.9,0.2 3.7,-0.3" fill="none" stroke="#000" stroke-width="1.05" stroke-linecap="round"/>
<path transform="translate(397.7,462.8) rotate(-90)" d="M2.2,-8.3 C3,-9.7 4.3,-9.6 5.1,-9 C5.9,-8.4 7.2,-8.2 8.2,-9.6" fill="none" stroke="#000" stroke-width="0.85"/>
<text transform="translate(400.1,456.6) rotate(-90)" class="r" font-size="9" font-style="italic">c</text>
<text transform="translate(397.2,446) rotate(-90)" class="s" font-size="11">(in hours)</text>
<g transform="translate(392.2,371.8) rotate(0)"><path d="M0,0 L6.1,6.8 L2.8,6.8 L2.8,18.8 L-2.8,18.8 L-2.8,6.8 L-6.1,6.8 Z" fill="#000" opacity="0.95" filter="url(#sh)" transform="translate(0.3,2.6)"/><path d="M0,0 L6.1,6.8 L2.8,6.8 L2.8,18.8 L-2.8,18.8 L-2.8,6.8 L-6.1,6.8 Z" fill="#bdbdbd" stroke="#262626" stroke-width="1.25" stroke-linejoin="miter"/></g>
<rect x="0" y="0" width="685" height="1.8" fill="#1c1c1c"/>
<rect x="0" y="0" width="1.3" height="610" fill="#1c1c1c"/>
<rect x="683.5" y="0" width="1.5" height="610" fill="#1c1c1c"/>
<rect x="0" y="608.2" width="685" height="1.8" fill="#1c1c1c"/>
</g></svg></div></body></html>
